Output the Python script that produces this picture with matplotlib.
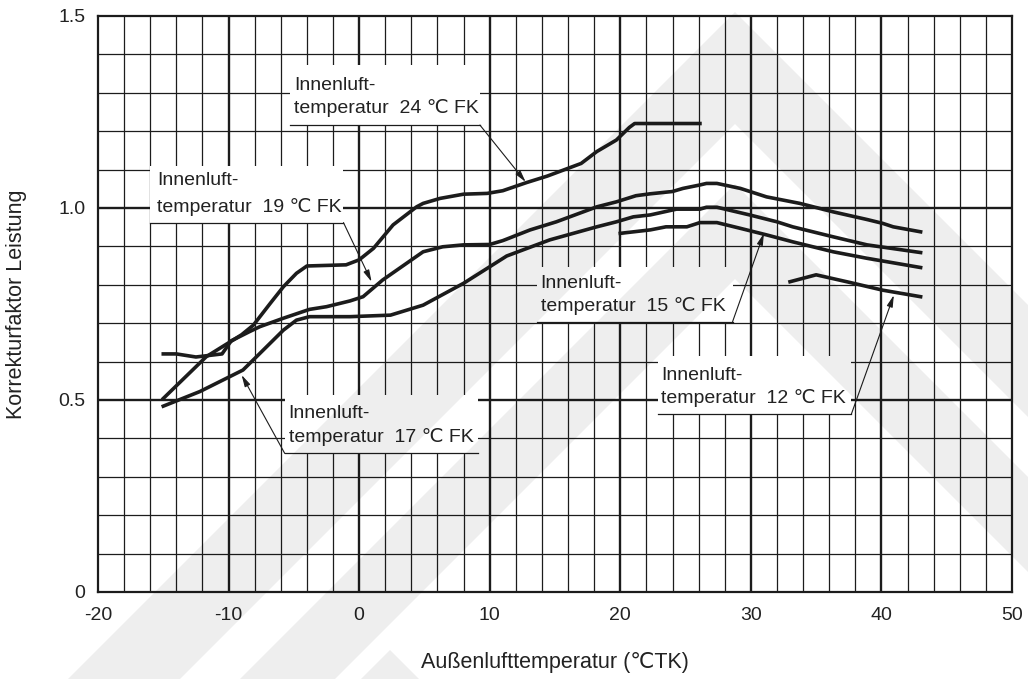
import matplotlib
matplotlib.use("Agg")
import matplotlib.pyplot as plt
from matplotlib.patches import Rectangle, Polygon

plt.rcParams['font.family'] = ['Liberation Sans', 'DejaVu Sans']
plt.rcParams['axes.unicode_minus'] = False

# Kennlinien (Außenlufttemperatur -> Korrekturfaktor)
c24_x = [-15, -11.7, -9.0, -8.1, -6.8, -5.8, -4.8, -4.0, -1.0, 0.0, 1.1, 2.6, 4.4, 4.9, 6.2, 8.0, 9.8, 11.0,
         12.8, 14.4, 17.0, 18.2, 19.7, 20.7, 21.1, 26.1]
c24_y = [0.504, 0.613, 0.67, 0.695, 0.752, 0.795, 0.830, 0.849, 0.852, 0.865, 0.895, 0.956, 1.003, 1.012, 1.025,
         1.036, 1.038, 1.045, 1.066, 1.083, 1.116, 1.147, 1.177, 1.21, 1.22, 1.22]

c19_x = [-15, -14, -12.5, -10.5, -9.8, -8.4, -7.6, -5.8, -3.8, -2.5, -0.7, 0.3, 1.8, 4.9, 6.4, 8.0, 10.0, 11.0,
         13.1, 15.1, 18.2, 19.7, 21.2, 22.3, 24.0, 24.8, 26.1, 26.6, 27.4, 29.2, 31.2, 33.75, 36.3, 38.9, 40.1,
         40.9, 43.0]
c19_y = [0.62, 0.62, 0.612, 0.62, 0.654, 0.678, 0.691, 0.713, 0.736, 0.743, 0.758, 0.769, 0.8125, 0.886, 0.899,
         0.904, 0.905, 0.915, 0.943, 0.964, 1.003, 1.016, 1.032, 1.037, 1.043, 1.051, 1.060, 1.064, 1.064, 1.051,
         1.029, 1.012, 0.990, 0.970, 0.960, 0.951, 0.938]

c17_x = [-15, -12.2, -9.9, -8.9, -7.85, -5.8, -4.8, -3.8, -0.7, 2.4, 4.9, 8.0, 10.0, 11.3, 14.6, 18.2, 19.7, 21.0,
         22.3, 24.3, 26.1, 26.6, 27.4, 29.9, 32.0, 33.2, 36.3, 38.9, 43.0]
c17_y = [0.484, 0.522, 0.561, 0.578, 0.613, 0.682, 0.708, 0.717, 0.717, 0.721, 0.747, 0.804, 0.847, 0.875, 0.917,
         0.951, 0.964, 0.977, 0.982, 0.997, 0.997, 1.002, 1.002, 0.982, 0.964, 0.951, 0.925, 0.904, 0.884]

c15_x = [20.0, 22.3, 23.5, 25.1, 26.1, 27.4, 29.2, 31.2, 33.2, 36.3, 38.9, 43.0]
c15_y = [0.934, 0.943, 0.951, 0.951, 0.962, 0.962, 0.947, 0.930, 0.912, 0.886, 0.869, 0.845]

c12_x = [33.0, 35.0, 37.6, 40.1, 43.0]
c12_y = [0.808, 0.826, 0.806, 0.786, 0.769]

x_ticks = [-20, -10, 0, 10, 20, 30, 40, 50]
y_ticks = [0, 0.5, 1.0, 1.5]
y_ticklabels = ["0", "0.5", "1.0", "1.5"]

ink = "#1c1c1c"
W, H = 1028, 679

fig = plt.figure(figsize=(10.28, 6.79), dpi=100)
ax = fig.add_axes([98 / W, 1 - 592 / H, 914 / W, 576 / H])
ax.set_facecolor("none")
ax.set_xlim(-20, 50)
ax.set_ylim(0, 1.5)

# Raster
for gx in range(-18, 50, 2):
    ax.axvline(gx, color=ink, lw=1.7 if gx % 10 == 0 else 0.9, zorder=1)
for i in range(1, 15):
    ax.axhline(i / 10, color=ink, lw=1.7 if i % 5 == 0 else 0.9, zorder=1)

for s in ax.spines.values():
    s.set_linewidth(1.6)
    s.set_color(ink)

ax.set_xticks(x_ticks)
ax.set_yticks(y_ticks)
ax.set_yticklabels(y_ticklabels)
ax.tick_params(length=0, labelsize=14, colors="#222222")
ax.tick_params(axis="x", pad=11)
ax.tick_params(axis="y", pad=9)

ax.set_xlabel("Außenlufttemperatur (℃TK)", fontsize=15.5, color="#222222")
ax.set_ylabel("Korrekturfaktor Leistung", fontsize=15.5, color="#222222")
ax.xaxis.set_label_coords(0.5, -0.105)
ax.yaxis.set_label_coords(-0.078, 0.5)

for xs, ys in [(c24_x, c24_y), (c19_x, c19_y), (c17_x, c17_y), (c15_x, c15_y), (c12_x, c12_y)]:
    ax.plot(xs, ys, color=ink, lw=2.6, zorder=5, solid_joinstyle="round")


def label(temp, x0, x1, y0, y1, tx, ty1, ty2, start, tip):
    ax.add_patch(Rectangle((x0, y0), x1 - x0, y1 - y0, facecolor="white", edgecolor="none", zorder=3))
    ax.text(tx, ty1, "Innenluft-", fontsize=14, va="center", ha="left", color="#222222", zorder=4)
    ax.text(tx, ty2, "temperatur  %d ℃ FK" % temp, fontsize=14, va="center", ha="left",
            color="#222222", zorder=4)
    ax.plot([x0, x1], [y0, y0], color=ink, lw=0.9, zorder=4)
    ax.annotate("", xy=tip, xytext=start, zorder=6,
                arrowprops=dict(arrowstyle="-|>,head_length=0.7,head_width=0.18", lw=0.8, color=ink,
                                shrinkA=0, shrinkB=0))


label(24, -5.3, 9.25, 1.216, 1.372, -5.0, 1.320, 1.260, (9.25, 1.216), (12.75, 1.068))
label(19, -16.0, -1.2, 0.962, 1.109, -15.5, 1.072, 1.003, (-1.2, 0.962), (0.95, 0.808))
label(17, -5.7, 9.1, 0.361, 0.513, -5.4, 0.464, 0.404, (-5.7, 0.361), (-9.0, 0.565))
label(15, 13.6, 28.6, 0.704, 0.847, 13.9, 0.803, 0.746, (28.6, 0.704), (31.0, 0.934))
label(12, 22.9, 37.7, 0.4635, 0.615, 23.1, 0.565, 0.506, (37.7, 0.4635), (40.95, 0.773))


# blasses Wasserzeichen (verschachtelte Winkel), in Pixeln des Bildes
def chevron(px, py, t):
    pts = [(px - (H - py), H), (px, py), (W, py + (W - px)), (W, py + t + (W - px)),
           (px, py + t), (px - (H - py - t), H)]
    return [(x / W, 1 - y / H) for x, y in pts]


for px, py, t in [(735, 12, 112), (735, 184, 95), (390, 650, 60)]:
    fig.add_artist(Polygon(chevron(px, py, t), closed=True, transform=fig.transFigure,
                           facecolor="black", edgecolor="none", alpha=0.065, zorder=10))

fig.savefig("out.png", dpi=100)
